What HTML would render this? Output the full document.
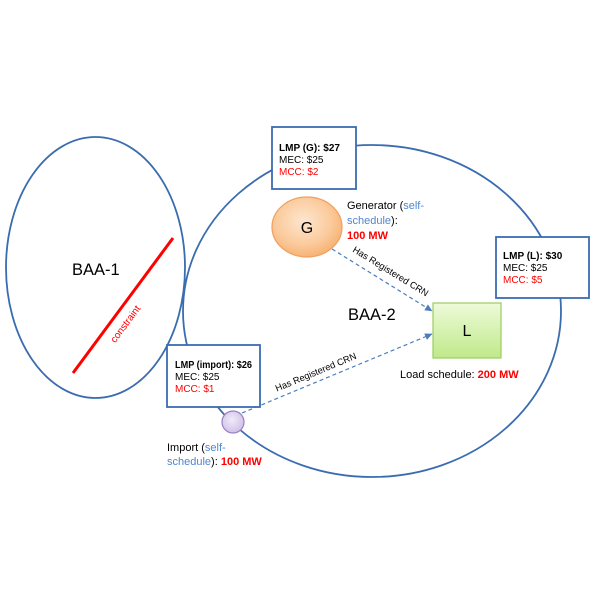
<!DOCTYPE html>
<html><head><meta charset="utf-8"><style>
html,body{margin:0;padding:0;background:#fff;}
svg{display:block;font-family:"Liberation Sans",Arial,sans-serif;}
</style></head><body>
<svg width="600" height="600" viewBox="0 0 600 600" xmlns="http://www.w3.org/2000/svg">
<defs>
<radialGradient id="gG" cx="0.45" cy="0.4" r="0.65">
<stop offset="0" stop-color="#fde6cf"/><stop offset="0.6" stop-color="#fbcb9d"/><stop offset="1" stop-color="#f6ad6c"/>
</radialGradient>
<linearGradient id="gL" x1="0" y1="0" x2="0" y2="1">
<stop offset="0" stop-color="#eefbd9"/><stop offset="1" stop-color="#bfe98a"/>
</linearGradient>
<radialGradient id="gI" cx="0.45" cy="0.4" r="0.65">
<stop offset="0" stop-color="#f1ebf8"/><stop offset="1" stop-color="#cdbde6"/>
</radialGradient>
<marker id="ah" markerWidth="8" markerHeight="8" refX="7" refY="4" orient="auto" markerUnits="userSpaceOnUse">
<path d="M0,0.5 L7.5,4 L0,7.5 z" fill="#4a7ebf"/>
</marker>
</defs>

<!-- BAA-1 -->
<ellipse cx="95.5" cy="267.5" rx="89.5" ry="130.5" fill="none" stroke="#3a6cb0" stroke-width="1.8"/>
<text x="72" y="275" font-size="16.5" fill="#000">BAA-1</text>
<line x1="173" y1="238" x2="73" y2="373" stroke="#ff0000" stroke-width="3"/>
<text transform="translate(128,326) rotate(-53.5)" font-size="10" fill="#ff0000" text-anchor="middle">constraint</text>

<!-- BAA-2 -->
<ellipse cx="372" cy="311" rx="189" ry="166" fill="none" stroke="#3a6cb0" stroke-width="1.8"/>
<text x="348" y="320" font-size="16.5" fill="#000">BAA-2</text>

<!-- dashed connectors -->
<line x1="332" y1="249" x2="432" y2="311" stroke="#4a7ebf" stroke-width="1.2" stroke-dasharray="4,3" marker-end="url(#ah)"/>
<line x1="242" y1="413" x2="432" y2="334" stroke="#4a7ebf" stroke-width="1.2" stroke-dasharray="4,3" marker-end="url(#ah)"/>
<text transform="translate(389,274) rotate(31.5)" font-size="9.3" fill="#000" text-anchor="middle">Has Registered CRN</text>
<text transform="translate(317,375) rotate(-22.6)" font-size="9.3" fill="#000" text-anchor="middle">Has Registered CRN</text>

<!-- G node -->
<ellipse cx="307" cy="227" rx="35" ry="30" fill="url(#gG)" stroke="#f0a060" stroke-width="1.2"/>
<text x="307" y="233" font-size="16" fill="#000" text-anchor="middle">G</text>
<text font-size="11" fill="#000"><tspan x="347" y="209">Generator (<tspan fill="#4f86d0">self-</tspan></tspan><tspan x="347" y="224"><tspan fill="#4f86d0">schedule</tspan>):</tspan><tspan x="347" y="239" fill="#ff0000" font-weight="bold">100 MW</tspan></text>

<!-- L node -->
<rect x="433" y="303" width="68" height="55" fill="url(#gL)" stroke="#9ccc60" stroke-width="1.2"/>
<text x="467" y="336" font-size="16" fill="#000" text-anchor="middle">L</text>
<text x="400" y="378" font-size="11" fill="#000">Load schedule: <tspan fill="#ff0000" font-weight="bold">200 MW</tspan></text>

<!-- Import node -->
<circle cx="233" cy="422" r="11" fill="url(#gI)" stroke="#9a80c4" stroke-width="1.2"/>
<text font-size="11" fill="#000"><tspan x="167" y="451">Import (<tspan fill="#4f86d0">self-</tspan></tspan><tspan x="167" y="465"><tspan fill="#4f86d0">schedule</tspan>): <tspan fill="#ff0000" font-weight="bold">100 MW</tspan></tspan></text>

<!-- LMP boxes -->
<rect x="272" y="127" width="84" height="62" fill="#fff" stroke="#3a6cb0" stroke-width="1.8"/>
<text font-size="10"><tspan x="279" y="151" font-weight="bold">LMP (G): $27</tspan><tspan x="279" y="163">MEC: $25</tspan><tspan x="279" y="175" fill="#ff0000">MCC: $2</tspan></text>

<rect x="496" y="237" width="93" height="61" fill="#fff" stroke="#3a6cb0" stroke-width="1.8"/>
<text font-size="10"><tspan x="503" y="259" font-weight="bold">LMP (L): $30</tspan><tspan x="503" y="271">MEC: $25</tspan><tspan x="503" y="283" fill="#ff0000">MCC: $5</tspan></text>

<rect x="167" y="345" width="93" height="62" fill="#fff" stroke="#3a6cb0" stroke-width="1.8"/>
<text font-size="10" x="175" y="368" font-weight="bold" textLength="77" lengthAdjust="spacingAndGlyphs">LMP (import): $26</text>
<text font-size="10"><tspan x="175" y="380">MEC: $25</tspan><tspan x="175" y="392" fill="#ff0000">MCC: $1</tspan></text>
</svg>
</body></html>
